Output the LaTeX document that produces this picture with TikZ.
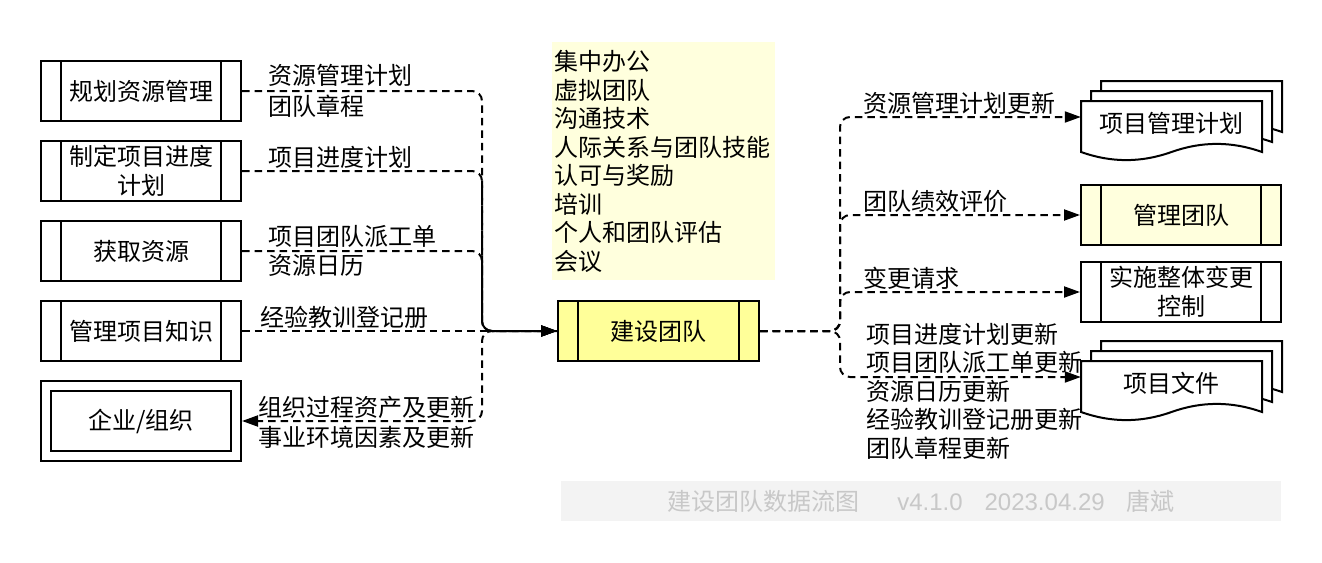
\documentclass[tikz,border=0pt]{standalone}
\usepackage{fontspec}
\setmainfont{Noto Sans CJK SC}
\newfontfamily\latinfont{Liberation Sans}
\usetikzlibrary{arrows.meta}

\definecolor{procyellow}{HTML}{FFFF99}
\definecolor{paleyellow}{HTML}{FFFFDD}
\definecolor{footgray}{HTML}{F3F3F3}
\definecolor{foottext}{HTML}{C8C8C8}

% one sheet of a stacked document, top left corner at (#1,#2)
\newcommand{\docsheet}[2]{%
  \filldraw[fill=white, line width=2pt, shift={(#1,#2)}]
    (0,0) -- (181,0) -- (181,51)
    .. controls (150.8,40.2) and (120.7,40.2) .. (90.5,51)
    .. controls (60.3,61.8) and (30.2,61.8) .. (0,51) -- cycle;}

\begin{document}
\begin{tikzpicture}[x=1pt, y=-1pt, >={Triangle[length=16pt, width=11pt]},
  every node/.style={font=\fontsize{24pt}{28.5pt}\selectfont},
  proc/.style={draw, line width=2pt, minimum width=200pt, minimum height=60pt,
    align=center, inner sep=0pt,
    path picture={\draw[line width=2pt]
      ([xshift=20pt]path picture bounding box.north west) -- ([xshift=20pt]path picture bounding box.south west)
      ([xshift=-20pt]path picture bounding box.north east) -- ([xshift=-20pt]path picture bounding box.south east);}},
  flow/.style={->, line width=2pt, dash pattern=on 7.5pt off 5pt, rounded corners=10pt},
  elabel/.style={anchor=west, inner sep=0pt, align=left}]

\useasboundingbox (0,0) rectangle (1322,562);

% --- Inputs ---
\node[proc] (plan) at (141,91) {规划资源管理};
\node[proc] (sched) at (141,171) {制定项目进度\\计划};
\node[proc] (acq) at (141,251) {获取资源};
\node[proc] (know) at (141,331) {管理项目知识};
\node[draw, line width=2pt, double, double distance=8pt, minimum width=190pt,
  minimum height=70pt, outer sep=6pt] (org) at (141,421) {企业/组织};

% --- Tools and techniques ---
\node[fill=paleyellow, anchor=north west, text width=219pt, minimum height=238pt,
  inner xsep=2pt, inner ysep=0pt, align=left] (tools) at (552,42)
  {集中办公\\虚拟团队\\沟通技术\\人际关系与团队技能\\认可与奖励\\培训\\个人和团队评估\\会议};

% --- Process ---
\node[proc, fill=procyellow, minimum width=201pt] (build) at (658.5,331) {建设团队};

% --- Outputs ---
\docsheet{1101}{81} \docsheet{1091}{91} \docsheet{1081}{101}
\node[minimum width=181pt, inner sep=0pt] (pmp) at (1171.5,123) {项目管理计划};
\node[proc, fill=paleyellow] (team) at (1181,215) {管理团队};
\node[proc] (ctrl) at (1181,292) {实施整体变更\\控制};
\docsheet{1101}{341} \docsheet{1091}{351} \docsheet{1081}{361}
\node[minimum width=181pt, inner sep=0pt] (docs) at (1171.5,383) {项目文件};

% --- Junctions ---
\coordinate (jl) at (482,331);
\coordinate (jr) at (840,331);

% --- Inputs to process ---
\draw[flow] (plan.east) -| (jl) -- (build.west);
\draw[flow] (sched.east) -| (jl) -- (build.west);
\draw[flow] (acq.east) -| (jl) -- (build.west);
\draw[flow] (know.east) -- (build.west);
\draw[flow] (build.west) -- (jl) |- (org.east);

% --- Process to outputs ---
\draw[flow] (build.east) -- (jr) |- ([yshift=6pt]pmp.west);
\draw[flow] (build.east) -- (jr) |- (team.west);
\draw[flow] (build.east) -- (jr) |- (ctrl.west);
\draw[flow] (build.east) -- (jr) |- ([yshift=6pt]docs.west);

% --- Labels ---
\node[elabel] (l1) at (268,91) {资源管理计划\\[3pt]团队章程};
\node[elabel] (l2) at (268,157) {项目进度计划};
\node[elabel] (l3) at (268,251) {项目团队派工单\\资源日历};
\node[elabel] (l4) at (260,317) {经验教训登记册};
\node[elabel] (l5) at (258,422) {组织过程资产及更新\\[1.5pt]事业环境因素及更新};
\node[elabel] (r1) at (863,103) {资源管理计划更新};
\node[elabel] (r2) at (863,201) {团队绩效评价};
\node[elabel] (r3) at (863,278) {变更请求};
\node[elabel] (r4) at (866,391) {项目进度计划更新\\项目团队派工单更新\\资源日历更新\\经验教训登记册更新\\团队章程更新};

% --- Footer ---
\node[fill=footgray, minimum width=720pt, minimum height=40pt, inner sep=0pt,
  text=foottext] (foot) at (921,501)
  {建设团队数据流图\hspace{38pt}{\latinfont v4.1.0}\hspace{22pt}{\latinfont 2023.04.29}\hspace{22pt}唐斌};

\end{tikzpicture}
\end{document}
